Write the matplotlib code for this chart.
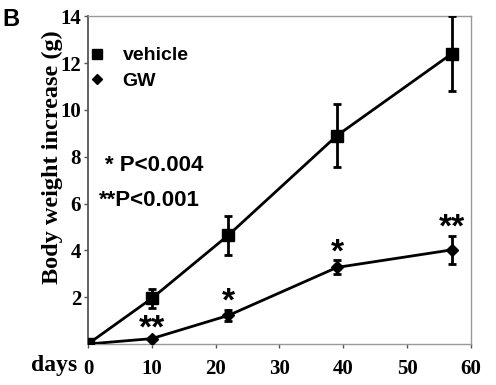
import matplotlib.pyplot as plt
from matplotlib.lines import Line2D

days = [0, 10, 22, 39, 57]
vehicle = [0, 1.95, 4.65, 8.9, 12.4]
vehicle_err = [0, 0.4, 0.83, 1.35, 1.6]
gw = [0, 0.23, 1.22, 3.27, 4.02]
gw_err = [0, 0.06, 0.25, 0.3, 0.6]
stars = ["", "**", "*", "*", "**"]

serif = "Liberation Serif"
sans = "Liberation Sans"

fig = plt.figure(figsize=(4.96, 3.85), dpi=100)
ax = fig.add_axes([0.1774, 0.1065, 0.7722, 0.8515])

ax.errorbar(days, vehicle, yerr=vehicle_err, color="black", lw=2.0,
            marker="s", ms=8, capsize=3, capthick=2.0, elinewidth=2.0,
            zorder=3)
ax.errorbar(days, gw, yerr=gw_err, color="black", lw=2.0,
            marker="D", ms=6.5, capsize=3, capthick=2.0, elinewidth=2.0,
            zorder=3)

# significance marks above the GW points
for x, y, e, s in zip(days, gw, gw_err, stars):
    if s:
        ax.annotate(s, (x, y + e), xytext=(0, -0.5), textcoords="offset points",
                    ha="center", va="baseline", family=sans, weight="bold",
                    fontsize=24)

ax.set_xlim(0, 60)
ax.set_ylim(0, 14)
ax.set_xticks(range(0, 61, 10))
ax.set_yticks(range(2, 15, 2))
ax.tick_params(direction="out", length=3, width=1, colors="#555555",
               labelcolor="black", pad=8)
for lab in ax.get_xticklabels() + ax.get_yticklabels():
    lab.set_family(serif)
    lab.set_weight("bold")
    lab.set_fontsize(15)
ax.tick_params(axis="y", pad=2)

for side in ["top", "right", "bottom"]:
    ax.spines[side].set_color("#999999")
    ax.spines[side].set_linewidth(1.0)
ax.spines["left"].set_color("#555555")
ax.spines["left"].set_linewidth(1.3)

ax.set_ylabel("Body weight increase (g)", family=serif, weight="bold",
              fontsize=17.5)
ax.yaxis.set_label_coords(-0.064, 0.57)

fig.text(0.062, 0.05, "days", family=serif, weight="bold", fontsize=17,
         ha="left", va="center")
fig.text(0.005, 0.98, "B", family=sans, weight="bold", fontsize=17,
         ha="left", va="top")
fig.text(-0.012, 0.79, ")", family=sans, fontsize=16, ha="left",
         va="center")

handles = [Line2D([], [], color="black", marker="s", ls="", ms=7),
           Line2D([], [], color="black", marker="D", ls="", ms=5)]
leg = ax.legend(handles, ["vehicle", "GW"], loc="upper left",
                bbox_to_anchor=(-0.042, 0.96), frameon=False,
                handlelength=0.8, handletextpad=0.9, labelspacing=0.42,
                prop={"family": sans, "weight": "bold", "size": 14})

ax.text(0.045, 0.546, "* P<0.004", transform=ax.transAxes, family=sans,
        weight="bold", fontsize=16, va="center")
ax.text(0.03, 0.439, "**P<0.001", transform=ax.transAxes, family=sans,
        weight="bold", fontsize=16, va="center")

fig.savefig("out.png", dpi=100)
